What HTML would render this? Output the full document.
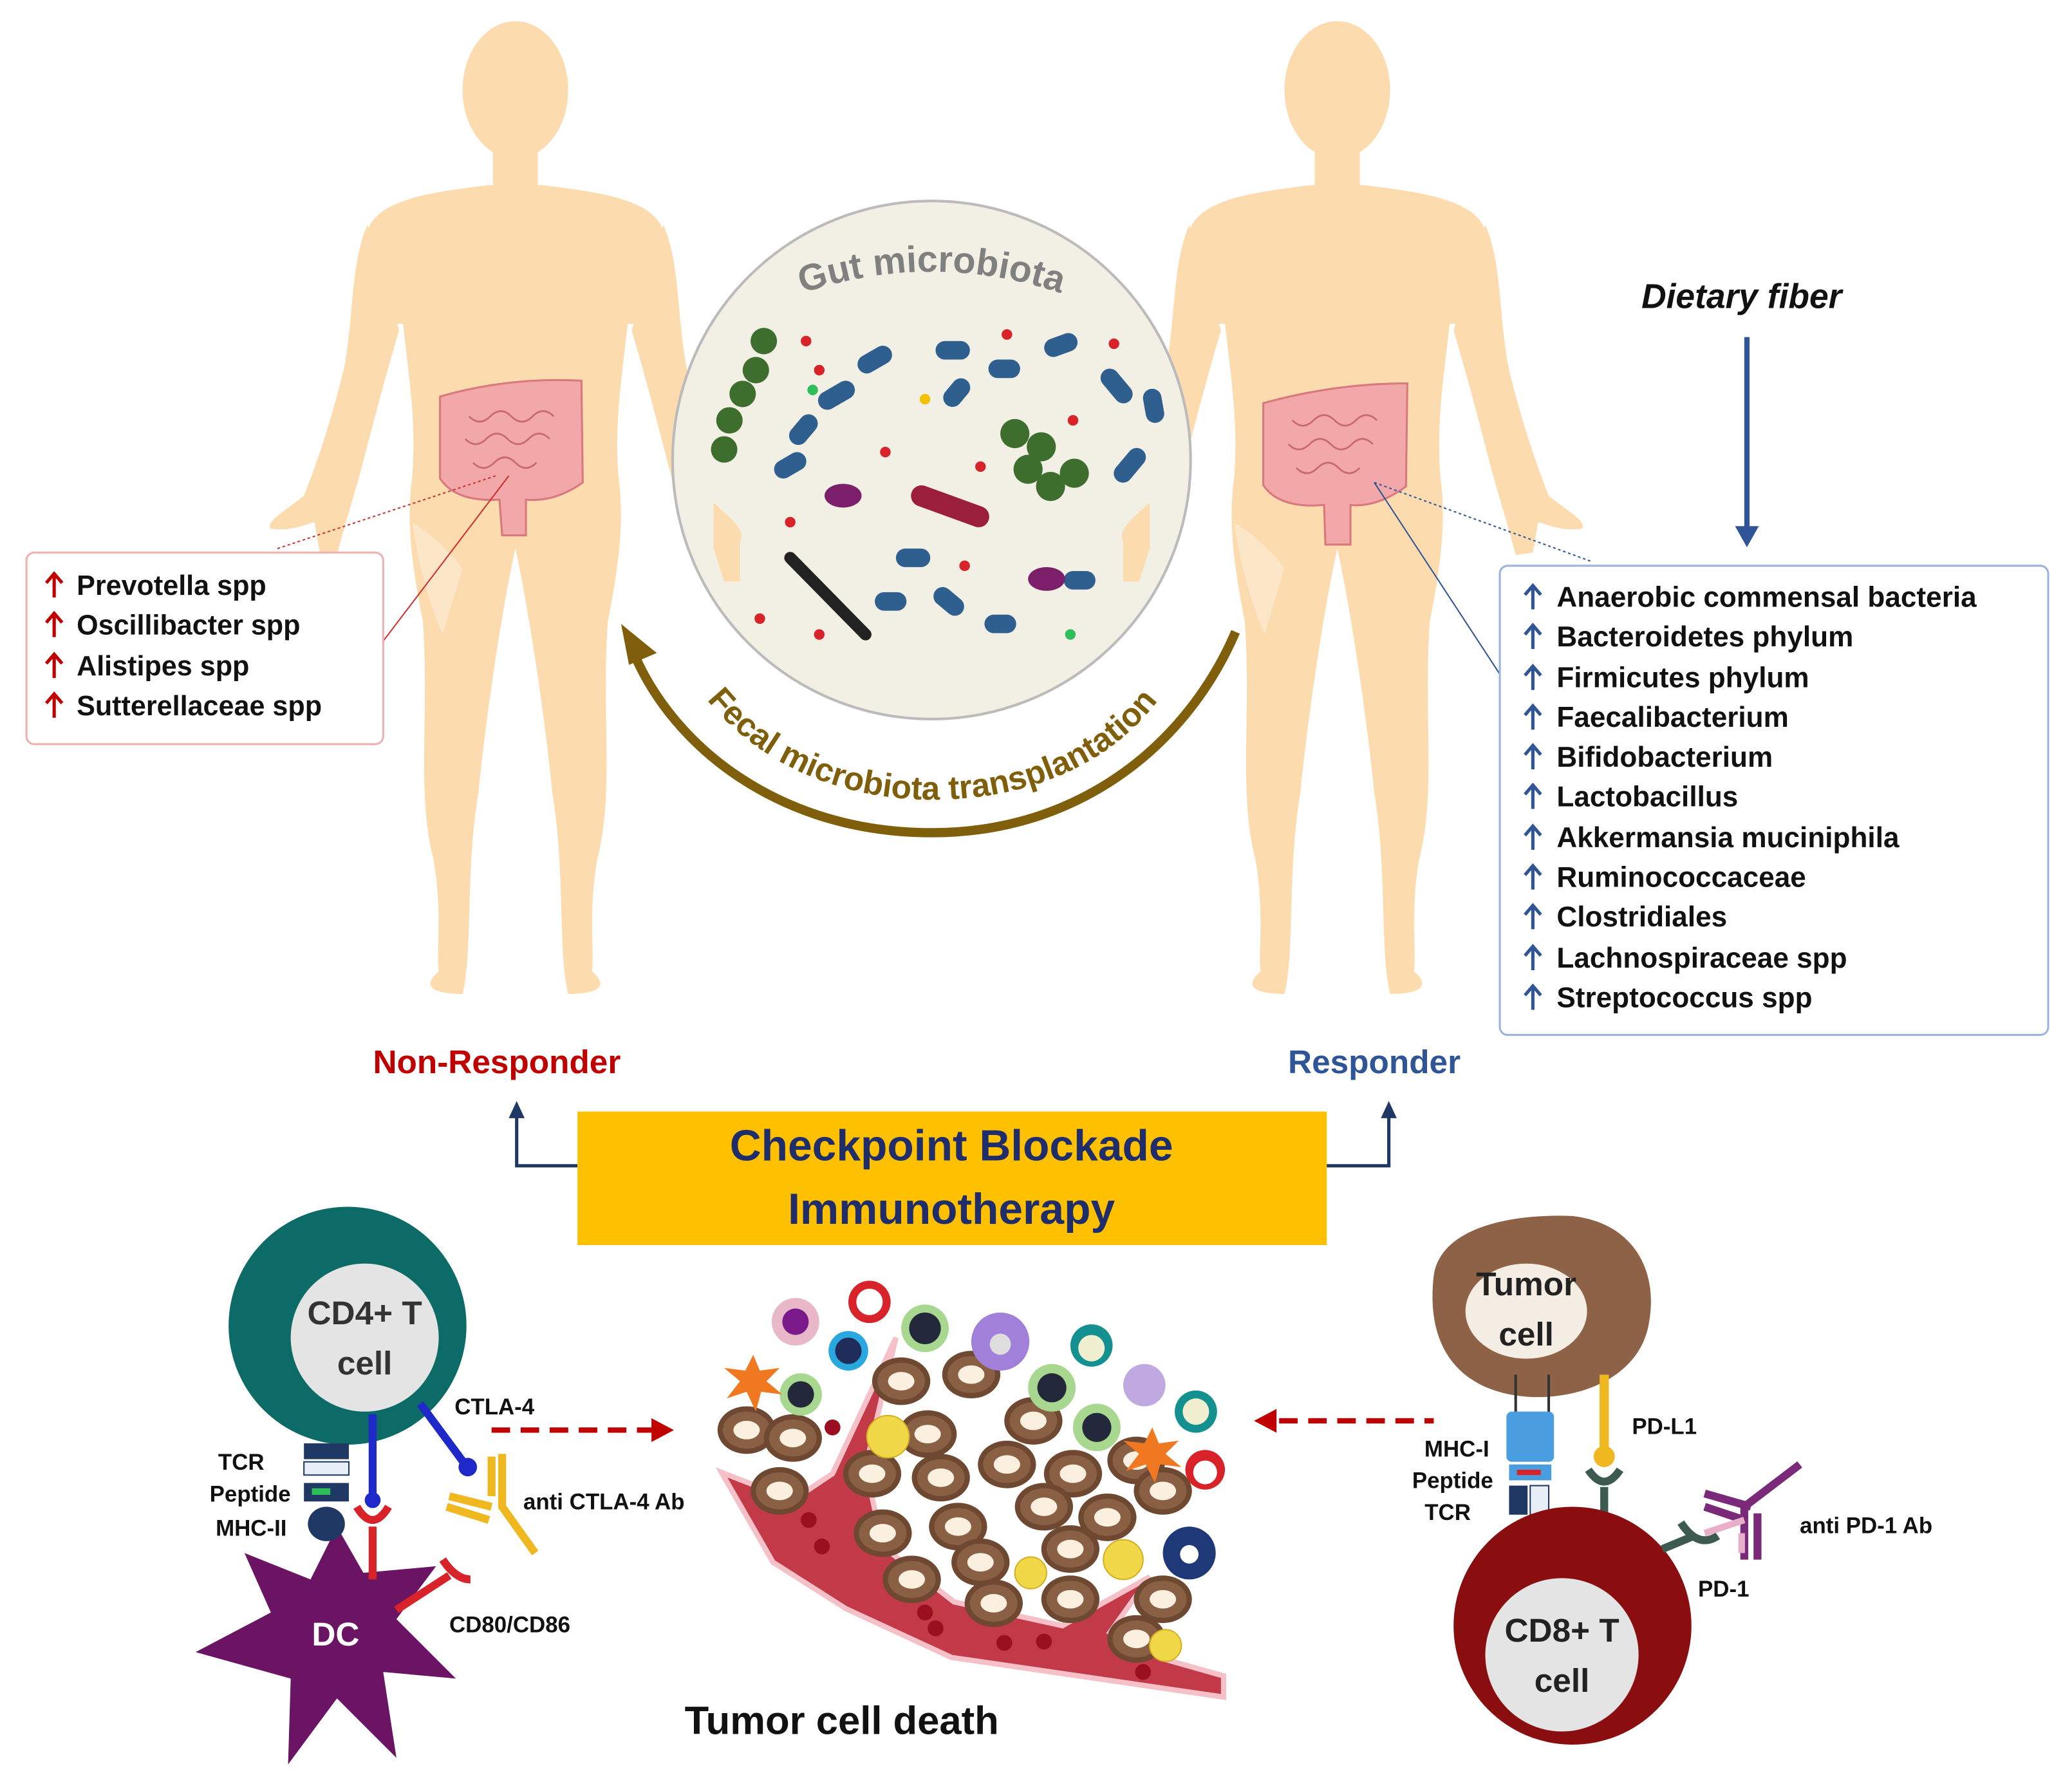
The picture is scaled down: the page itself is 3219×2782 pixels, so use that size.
<!DOCTYPE html>
<html><head><meta charset="utf-8">
<style>
html,body{margin:0;padding:0;background:#fff;}
svg{display:block;}
text{font-family:"Liberation Sans",sans-serif;font-weight:bold;}
</style></head>
<body>
<svg width="3219" height="2782" viewBox="0 0 1568 1355" xmlns="http://www.w3.org/2000/svg">
<defs>
<g id="body">
  <ellipse cx="0" cy="68" rx="40" ry="52"/>
  <rect x="-17" y="105" width="34" height="45"/>
  <path d="M-20,140 C-60,145 -105,150 -112,175 L-108,245 L-85,245 C-80,290 -75,320 -78,360 C-82,390 -80,420 -70,470 C-65,540 -75,600 -62,650 C-55,690 -60,720 -58,735 C-70,745 -65,752 -40,752 C-32,720 -38,660 -28,600 C-22,540 -10,460 0,415 C10,460 22,540 28,600 C38,660 32,720 40,752 C65,752 70,745 58,735 C60,720 55,690 62,650 C75,600 65,540 70,470 C80,420 82,390 78,360 C75,320 80,290 85,245 L108,245 L112,175 C105,150 60,145 20,140 Z"/>
  <path d="M-112,170 C-125,200 -122,240 -130,280 C-140,320 -150,350 -160,375 C-172,385 -190,395 -185,400 C-172,402 -162,398 -152,395 L-148,418 L-135,420 C-130,400 -125,385 -118,360 C-110,330 -100,290 -88,250 Z"/>
  <path d="M112,170 C125,200 122,240 130,280 C140,320 150,350 160,375 C172,385 190,395 185,400 C172,402 162,398 152,395 L148,418 L135,420 C130,400 125,385 118,360 C110,330 100,290 88,250 Z"/>
</g>
<g id="tc"><ellipse rx="22" ry="18" fill="#6e4830"/><ellipse rx="18" ry="14" fill="#8a6045"/><ellipse rx="10" ry="7" fill="#fbf0e0"/></g>
<path id="ua" d="M0,9 L0,-8 M-6,-2 L0,-9 L6,-2" fill="none" stroke-width="2.5"/>
</defs>
<rect width="1568" height="1355" fill="#fff"/>

<!-- bodies -->
<g fill="#fcdcae"><use href="#body" x="390" y="0"/><use href="#body" x="1012" y="0"/></g>
<g fill="#fbe6c8"><path d="M312,395 Q335,410 350,430 L335,480 Q318,440 312,395Z"/><path d="M934,395 Q957,410 972,430 L957,480 Q940,440 934,395Z"/></g>
<!-- intestines -->
<g fill="#f2a7a9" stroke="#d9787e" stroke-width="1.5">
<path d="M333,300 Q385,285 440,288 L441,365 Q420,380 398,378 L398,405 L380,405 L378,378 Q345,380 333,362Z"/>
<path d="M956,305 Q1010,290 1065,290 L1064,368 Q1042,384 1022,382 L1022,412 L1003,412 L1002,382 Q968,385 956,367Z"/>
</g>
<g stroke="#c86a72" stroke-width="1.3" fill="none"><path d="M355,315 q8,8 16,0 q8,-8 16,0 q8,8 16,0 q8,-8 16,0 M352,332 q8,8 16,0 q8,-8 16,0 q8,8 16,0 q8,-8 16,0 M358,350 q8,8 16,0 q8,-8 16,0 q8,8 16,0"/><path d="M978,318 q8,8 16,0 q8,-8 16,0 q8,8 16,0 q8,-8 16,0 M975,336 q8,8 16,0 q8,-8 16,0 q8,8 16,0 q8,-8 16,0 M981,354 q8,8 16,0 q8,-8 16,0 q8,8 16,0"/></g>

<!-- gut microbiota circle -->
<circle cx="705" cy="348" r="196" fill="#f2efe4" stroke="#bbb" stroke-width="2"/>
<path id="tp" d="M590,228 Q705,183 820,228" fill="none"/>
<text font-size="28" fill="#808080"><textPath href="#tp" startOffset="50%" text-anchor="middle">Gut microbiota</textPath></text>
<g fill="#2e5f8e">
<rect x="648" y="265" width="28" height="14" rx="7" transform="rotate(-30 662 272)"/><rect x="708" y="258" width="26" height="14" rx="7"/><rect x="790" y="255" width="26" height="14" rx="7" transform="rotate(-20 800 262)"/><rect x="712" y="290" width="24" height="14" rx="7" transform="rotate(-50 724 297)"/><rect x="748" y="272" width="24" height="14" rx="7"/><rect x="618" y="292" width="30" height="14" rx="7" transform="rotate(-30 633 299)"/><rect x="595" y="318" width="26" height="14" rx="7" transform="rotate(-50 608 325)"/><rect x="585" y="345" width="26" height="14" rx="7" transform="rotate(-30 598 352)"/><rect x="830" y="285" width="30" height="14" rx="7" transform="rotate(50 845 292)"/><rect x="840" y="345" width="30" height="14" rx="7" transform="rotate(-50 855 352)"/><rect x="860" y="300" width="26" height="14" rx="7" transform="rotate(80 873 307)"/><rect x="678" y="415" width="26" height="14" rx="7"/><rect x="705" y="448" width="26" height="14" rx="7" transform="rotate(40 718 455)"/><rect x="662" y="448" width="24" height="14" rx="7"/><rect x="745" y="465" width="24" height="14" rx="7"/><rect x="805" y="432" width="24" height="14" rx="7"/></g>
<g fill="#3e6e2e"><circle cx="578" cy="258" r="10"/><circle cx="572" cy="280" r="10"/><circle cx="562" cy="298" r="10"/><circle cx="552" cy="318" r="10"/><circle cx="548" cy="340" r="10"/><circle cx="768" cy="328" r="11"/><circle cx="788" cy="338" r="11"/><circle cx="778" cy="355" r="11"/><circle cx="795" cy="368" r="11"/><circle cx="813" cy="358" r="11"/></g>
<g fill="#d8232a"><circle cx="610" cy="258" r="4"/><circle cx="620" cy="280" r="4"/><circle cx="762" cy="253" r="4"/><circle cx="843" cy="260" r="4"/><circle cx="670" cy="342" r="4"/><circle cx="742" cy="353" r="4"/><circle cx="598" cy="395" r="4"/><circle cx="575" cy="468" r="4"/><circle cx="620" cy="480" r="4"/><circle cx="730" cy="428" r="4"/><circle cx="812" cy="318" r="4"/></g>
<circle cx="700" cy="302" r="4" fill="#f2c200"/><circle cx="615" cy="295" r="4" fill="#2ebf5a"/><circle cx="810" cy="480" r="4" fill="#2ebf5a"/>
<ellipse cx="638" cy="375" rx="14" ry="9" fill="#7b1f6a"/><ellipse cx="792" cy="438" rx="14" ry="9" fill="#7b1f6a"/>
<rect x="688" y="375" width="62" height="16" rx="8" fill="#9b1e3c" transform="rotate(20 719 383)"/>
<line x1="598" y1="422" x2="655" y2="480" stroke="#222" stroke-width="9" stroke-linecap="round"/>
<!-- hands over circle -->
<g fill="#fcdcae"><path d="M540,380 C552,392 565,400 560,410 L560,440 L548,440 L540,415 Z"/><path d="M870,380 C858,392 845,400 850,410 L850,440 L862,440 L870,415 Z"/></g>

<!-- fecal transplant arc -->
<path d="M935,478 C900,560 820,630 705,630 C590,630 510,565 480,495" fill="none" stroke="#7f5f0c" stroke-width="7"/>
<polygon points="470,472 497,494 476,503" fill="#7f5f0c"/>
<path id="fp" d="M515,500 C560,580 640,605 705,605 C790,605 860,570 895,500" fill="none"/>
<text font-size="25" fill="#7f5f0c"><textPath href="#fp" startOffset="50%" text-anchor="middle">Fecal microbiota transplantation</textPath></text>

<!-- pointer lines -->
<line x1="210" y1="415" x2="375" y2="360" stroke="#d03030" stroke-width="1" stroke-dasharray="2,2"/>
<line x1="290" y1="485" x2="385" y2="360" stroke="#d03030" stroke-width="1"/>
<line x1="1040" y1="365" x2="1205" y2="425" stroke="#2f5597" stroke-width="1" stroke-dasharray="2,2"/>
<line x1="1040" y1="365" x2="1135" y2="510" stroke="#2f5597" stroke-width="1"/>

<!-- left box -->
<rect x="20" y="418" width="270" height="145" rx="6" fill="#fff" stroke="#f0b0b0" stroke-width="1.5"/>
<g font-size="21" fill="#111">
<text x="58" y="450">Prevotella spp</text><text x="58" y="480">Oscillibacter spp</text><text x="58" y="511">Alistipes spp</text><text x="58" y="541">Sutterellaceae spp</text></g>
<g stroke="#c00000"><use href="#ua" x="41" y="443"/><use href="#ua" x="41" y="473"/><use href="#ua" x="41" y="504"/><use href="#ua" x="41" y="534"/></g>

<!-- right box -->
<text x="1318" y="233" font-size="26" font-style="italic" text-anchor="middle" fill="#111">Dietary fiber</text>
<line x1="1322" y1="255" x2="1322" y2="402" stroke="#2f5597" stroke-width="4"/>
<polygon points="1313,398 1331,398 1322,414" fill="#2f5597"/>
<rect x="1135" y="428" width="415" height="355" rx="6" fill="#fff" stroke="#9db3dd" stroke-width="1.5"/>
<g font-size="21.5" fill="#111">
<text x="1178" y="459">Anaerobic commensal bacteria</text><text x="1178" y="489">Bacteroidetes phylum</text><text x="1178" y="520">Firmicutes phylum</text><text x="1178" y="550">Faecalibacterium</text><text x="1178" y="580">Bifidobacterium</text><text x="1178" y="610">Lactobacillus</text><text x="1178" y="641">Akkermansia muciniphila</text><text x="1178" y="671">Ruminococcaceae</text><text x="1178" y="701">Clostridiales</text><text x="1178" y="732">Lachnospiraceae spp</text><text x="1178" y="762">Streptococcus spp</text></g>
<g stroke="#2f5597"><use href="#ua" x="1160" y="452"/><use href="#ua" x="1160" y="482"/><use href="#ua" x="1160" y="513"/><use href="#ua" x="1160" y="543"/><use href="#ua" x="1160" y="573"/><use href="#ua" x="1160" y="603"/><use href="#ua" x="1160" y="634"/><use href="#ua" x="1160" y="664"/><use href="#ua" x="1160" y="694"/><use href="#ua" x="1160" y="725"/><use href="#ua" x="1160" y="755"/></g>

<text x="376" y="812" font-size="25" fill="#c00000" text-anchor="middle">Non-Responder</text>
<text x="1040" y="812" font-size="25" fill="#2f5597" text-anchor="middle">Responder</text>

<!-- checkpoint box -->
<polyline points="437,882 391,882 391,842" fill="none" stroke="#1f3864" stroke-width="2.5"/>
<polygon points="385,846 397,846 391,833" fill="#1f3864"/>
<polyline points="1004,882 1051,882 1051,842" fill="none" stroke="#1f3864" stroke-width="2.5"/>
<polygon points="1045,846 1057,846 1051,833" fill="#1f3864"/>
<rect x="437" y="841" width="567" height="101" fill="#ffc000"/>
<text x="720" y="878" font-size="33" fill="#1f2d6b" text-anchor="middle">Checkpoint Blockade</text>
<text x="720" y="926" font-size="33" fill="#1f2d6b" text-anchor="middle">Immunotherapy</text>

<!-- CD4 / DC -->
<path d="M255,1155 L275,1190 L330,1185 L300,1225 L345,1270 L290,1265 L300,1330 L255,1285 L218,1335 L220,1270 L148,1250 L205,1220 L185,1175 L235,1195 Z" fill="#6b1464"/>
<text x="254" y="1245" font-size="25" fill="#fff" text-anchor="middle">DC</text>
<circle cx="263" cy="1003" r="90" fill="#0c6b67"/>
<circle cx="276" cy="1012" r="56" fill="#e4e4e4"/>
<text x="276" y="1002" font-size="25" fill="#333" text-anchor="middle">CD4+ T</text>
<text x="276" y="1040" font-size="25" fill="#333" text-anchor="middle">cell</text>
<rect x="230" y="1092" width="34" height="12" fill="#1f3864"/><rect x="230" y="1106" width="34" height="10" fill="#e8eef8" stroke="#1f3864"/>
<rect x="230" y="1122" width="34" height="14" fill="#1f3864"/><rect x="236" y="1126" width="14" height="5" fill="#2ebf5a"/>
<ellipse cx="247" cy="1153" rx="14" ry="13" fill="#1f3864"/>
<line x1="282" y1="1070" x2="282" y2="1135" stroke="#1f28c8" stroke-width="6"/><circle cx="282" cy="1135" r="6" fill="#1f28c8"/>
<path d="M270,1140 Q282,1160 294,1140 M282,1155 L282,1195" fill="none" stroke="#d8232a" stroke-width="6"/>
<line x1="318" y1="1062" x2="352" y2="1108" stroke="#1f28c8" stroke-width="6"/><circle cx="354" cy="1110" r="7" fill="#1f28c8"/>
<path d="M300,1218 L340,1192 M335,1180 Q345,1195 356,1195" fill="none" stroke="#d8232a" stroke-width="6"/>
<path d="M380,1100 L380,1140 L405,1175 M372,1102 L372,1132 M340,1132 L372,1140 M338,1140 L370,1150" fill="none" stroke="#f0b820" stroke-width="6"/>
<g font-size="17" fill="#111">
<text x="344" y="1070">CTLA-4</text><text x="396" y="1142">anti CTLA-4 Ab</text><text x="340" y="1235">CD80/CD86</text>
<text x="200" y="1112" text-anchor="end">TCR</text><text x="220" y="1136" text-anchor="end">Peptide</text><text x="217" y="1162" text-anchor="end">MHC-II</text></g>
<line x1="372" y1="1082" x2="495" y2="1082" stroke="#c00000" stroke-width="4" stroke-dasharray="14,8"/>
<polygon points="493,1073 510,1082 493,1091" fill="#c00000"/>

<!-- tumor microenvironment -->
<path d="M546,1114 L600,1135 L630,1115 L665,1040 L678,1012 L655,1110 L668,1170 L722,1212 L804,1230 L870,1193 L840,1235 L880,1255 L926,1268 L926,1284 L830,1270 L720,1254 L640,1217 L585,1182 Z" fill="#c23a48" stroke="#f5c0c8" stroke-width="4"/>
<g fill="#9a1020"><circle cx="630" cy="1080" r="6"/><circle cx="612" cy="1150" r="6"/><circle cx="622" cy="1170" r="6"/><circle cx="700" cy="1220" r="6"/><circle cx="708" cy="1232" r="6"/><circle cx="760" cy="1243" r="6"/><circle cx="790" cy="1242" r="6"/><circle cx="865" cy="1265" r="6"/></g>
<g>
<use href="#tc" x="565" y="1082"/><use href="#tc" x="600" y="1088"/><use href="#tc" x="590" y="1128"/>
<use href="#tc" x="682" y="1045"/><use href="#tc" x="735" y="1040"/><use href="#tc" x="702" y="1085"/><use href="#tc" x="782" y="1075"/>
<use href="#tc" x="660" y="1115"/><use href="#tc" x="712" y="1118"/><use href="#tc" x="762" y="1108"/><use href="#tc" x="812" y="1115"/><use href="#tc" x="860" y="1105"/>
<use href="#tc" x="668" y="1160"/><use href="#tc" x="725" y="1155"/><use href="#tc" x="790" y="1140"/><use href="#tc" x="838" y="1148"/><use href="#tc" x="880" y="1128"/>
<use href="#tc" x="690" y="1195"/><use href="#tc" x="742" y="1182"/><use href="#tc" x="810" y="1172"/><use href="#tc" x="752" y="1213"/><use href="#tc" x="810" y="1210"/>
<use href="#tc" x="880" y="1210"/><use href="#tc" x="860" y="1240"/></g>
<g fill="#f0d848" stroke="#d4b020"><circle cx="672" cy="1087" r="16"/><circle cx="850" cy="1180" r="15"/><circle cx="780" cy="1190" r="12"/><circle cx="882" cy="1245" r="12"/></g>
<circle cx="602" cy="1000" r="18" fill="#e8b8c8"/><circle cx="602" cy="1000" r="10" fill="#7a1a8a"/>
<circle cx="658" cy="985" r="16" fill="#d8232a"/><circle cx="658" cy="985" r="10" fill="#fff"/>
<circle cx="642" cy="1022" r="15" fill="#29a8e0"/><circle cx="642" cy="1022" r="10" fill="#1f2d5a"/>
<circle cx="700" cy="1005" r="18" fill="#a8d890"/><circle cx="700" cy="1005" r="12" fill="#23293a"/>
<circle cx="757" cy="1015" r="22" fill="#a080d8"/><circle cx="757" cy="1017" r="8" fill="#ddd"/>
<circle cx="826" cy="1018" r="16" fill="#159090"/><circle cx="826" cy="1020" r="10" fill="#f0f0d0"/>
<circle cx="606" cy="1055" r="16" fill="#a8d890"/><circle cx="606" cy="1055" r="10" fill="#23293a"/>
<path d="M570,1025 L575,1037 L590,1035 L580,1045 L592,1055 L576,1053 L572,1068 L565,1053 L550,1058 L560,1045 L548,1035 L564,1037Z" fill="#f07820"/>
<circle cx="796" cy="1050" r="18" fill="#a8d890"/><circle cx="796" cy="1050" r="11" fill="#23293a"/>
<circle cx="830" cy="1080" r="18" fill="#a8d890"/><circle cx="830" cy="1080" r="11" fill="#23293a"/>
<circle cx="866" cy="1048" r="16" fill="#c0a8e0"/>
<circle cx="905" cy="1068" r="16" fill="#159090"/><circle cx="905" cy="1068" r="10" fill="#f0f0d0"/>
<path d="M872,1080 L877,1092 L892,1090 L882,1100 L894,1110 L878,1108 L874,1122 L867,1108 L852,1113 L862,1100 L850,1090 L866,1092Z" fill="#f07820"/>
<circle cx="912" cy="1112" r="15" fill="#d8232a"/><circle cx="912" cy="1114" r="9" fill="#fff"/>
<circle cx="900" cy="1175" r="20" fill="#1f3878"/><circle cx="900" cy="1176" r="7" fill="#fff"/>
<text x="637" y="1312" font-size="30" fill="#111" text-anchor="middle">Tumor cell death</text>

<!-- tumor cell / CD8 -->
<path d="M1085,965 C1090,930 1140,918 1190,920 C1235,925 1255,960 1248,1000 C1242,1040 1200,1058 1160,1057 C1110,1055 1078,1025 1085,965Z" fill="#8d6247"/>
<ellipse cx="1155" cy="992" rx="46" ry="36" fill="#f4ede3"/>
<text x="1155" y="980" font-size="25" fill="#222" text-anchor="middle">Tumor</text>
<text x="1155" y="1018" font-size="25" fill="#222" text-anchor="middle">cell</text>
<line x1="1147" y1="1040" x2="1147" y2="1070" stroke="#333" stroke-width="2"/><line x1="1172" y1="1040" x2="1172" y2="1070" stroke="#333" stroke-width="2"/>
<rect x="1140" y="1068" width="36" height="38" rx="4" fill="#4a9ee0"/>
<rect x="1142" y="1108" width="32" height="12" fill="#4a9ee0"/><rect x="1148" y="1112" width="18" height="4" fill="#d8232a"/>
<rect x="1142" y="1124" width="14" height="22" fill="#1f3864"/><rect x="1158" y="1124" width="14" height="22" fill="#e8eef8" stroke="#1f3864"/>
<line x1="1214" y1="1040" x2="1214" y2="1098" stroke="#f0b820" stroke-width="7"/><circle cx="1214" cy="1102" r="8" fill="#f0b820"/>
<path d="M1202,1112 Q1214,1130 1226,1112 M1214,1125 L1214,1155" fill="none" stroke="#3c5a50" stroke-width="6"/>
<circle cx="1190" cy="1230" r="90" fill="#8a0e10"/>
<circle cx="1182" cy="1252" r="58" fill="#e4e4e4"/>
<text x="1182" y="1242" font-size="25" fill="#222" text-anchor="middle">CD8+ T</text>
<text x="1182" y="1280" font-size="25" fill="#222" text-anchor="middle">cell</text>
<path d="M1258,1172 L1282,1162 M1272,1152 Q1285,1172 1300,1162" fill="none" stroke="#3c5a50" stroke-width="6"/>
<path d="M1320,1180 L1320,1140 L1362,1108 M1330,1180 L1330,1145 M1290,1130 L1325,1140 M1290,1140 L1320,1150" fill="none" stroke="#7a2a78" stroke-width="6"/>
<path d="M1290,1160 L1320,1150 M1318,1160 L1318,1175" fill="none" stroke="#e8b0c8" stroke-width="5"/>
<g font-size="17" fill="#111">
<text x="1235" y="1085">PD-L1</text><text x="1362" y="1160">anti PD-1 Ab</text><text x="1285" y="1208">PD-1</text>
<text x="1127" y="1102" text-anchor="end">MHC-I</text><text x="1130" y="1126" text-anchor="end">Peptide</text><text x="1113" y="1150" text-anchor="end">TCR</text></g>
<line x1="968" y1="1075" x2="1085" y2="1075" stroke="#c00000" stroke-width="4" stroke-dasharray="14,8"/>
<polygon points="966,1066 949,1075 966,1084" fill="#c00000"/>
</svg>
</body></html>
